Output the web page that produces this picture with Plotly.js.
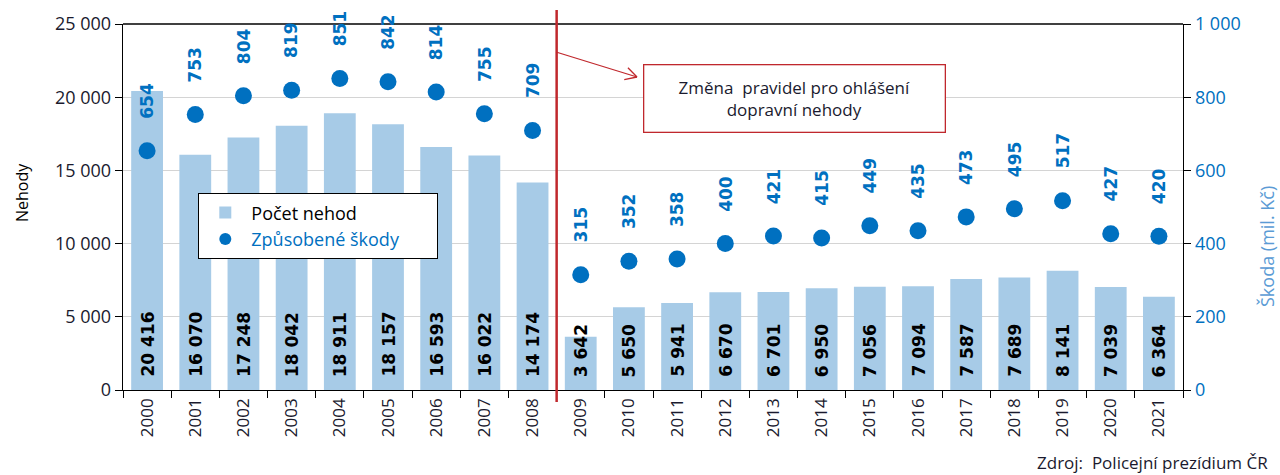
<!DOCTYPE html>
<html><head><meta charset="utf-8">
<script src="https://cdn.plot.ly/plotly-3.0.1.min.js"></script>
<style>html,body{margin:0;padding:0;background:#fff}#chart{width:1280px;height:475px}</style>
</head><body><div id="chart"></div>
<script>
const years = ['2000','2001','2002','2003','2004','2005','2006','2007','2008','2009','2010','2011','2012','2013','2014','2015','2016','2017','2018','2019','2020','2021'];
const accidents = [20416,16070,17248,18042,18911,18157,16593,16022,14174,3642,5650,5941,6670,6701,6950,7056,7094,7587,7689,8141,7039,6364];
const damages = [654,753,804,819,851,842,814,755,709,315,352,358,400,421,415,449,435,473,495,517,427,420];

const W = 1280, H = 475, L = 123, R = 1183, T = 24, B = 390;
const px = x => (x - L) / (R - L);
const py = y => (B - y) / (B - T);

const BLUE = '#0070c0', BAR = '#a7cbe7', RED = '#c0282d', TXT = '#1a1a2e';
const FONT = '"Open Sans", sans-serif';
const BOLD = '"DejaVu Sans", sans-serif';
const fmt = v => String(v).replace(/\B(?=(\d{3})+(?!\d))/g, ' ');

const traces = [
  {type:'bar', x: years.map((_,i)=>i), y: accidents, name:'Počet nehod', marker:{color:BAR}, width:0.66, hoverinfo:'skip'},
  {type:'scatter', mode:'markers', x: years.map((_,i)=>i), y: damages, yaxis:'y2',
   name:'<span style="color:'+BLUE+'">Způsobené škody</span>\u00a0\u00a0\u00a0\u00a0\u00a0\u00a0\u00a0',
   marker:{color:BLUE, size:17}, hoverinfo:'skip'}
];

const annotations = [];
years.forEach((yr,i)=>{
  annotations.push({
    x: i, y: damages[i], xref:'x', yref:'y2', text:'<b>'+damages[i]+'</b>', showarrow:false,
    textangle:-90, xanchor:'center', yanchor:'bottom', yshift:30,
    font:{family:BOLD, size:17, color:BLUE}
  });
  annotations.push({
    x: i, y: 0, xref:'x', yref:'y', text:'<b>'+fmt(accidents[i])+'</b>', showarrow:false,
    textangle:-90, xanchor:'center', yanchor:'bottom', yshift:11,
    font:{family:BOLD, size:17, color:'#000'}
  });
});

annotations.push({
  xref:'paper', yref:'paper', x: px(794.5), y: py(98), xanchor:'center', yanchor:'middle',
  text:'Změna  pravidel pro ohlášení<br>dopravní nehody', showarrow:false,
  font:{family:FONT, size:17, color:TXT}, align:'center',
  bordercolor:RED, borderwidth:1.3, bgcolor:'#fff', width:294, height:60, borderpad:3
});
annotations.push({
  xref:'paper', yref:'paper', x: px(1270), y: py(462), xanchor:'right', yanchor:'middle',
  text:'Zdroj:  Policejní prezídium ČR', showarrow:false,
  font:{family:FONT, size:17, color:TXT}
});
annotations.push({
  xref:'paper', yref:'paper', x: px(22), y: py(193), xanchor:'center', yanchor:'middle',
  text:'Nehody', showarrow:false, textangle:-90,
  font:{family:FONT, size:16, color:'#000'}
});
annotations.push({
  xref:'paper', yref:'paper', x: px(1267), y: py(247), xanchor:'center', yanchor:'middle',
  text:'Škoda (mil. Kč)', showarrow:false, textangle:-90,
  font:{family:FONT, size:18, color:'#5b9bd5'}
});

// arrow (red) from line to box
const a0 = [556, 52], a1 = [637, 77];
const dx = a1[0]-a0[0], dy = a1[1]-a0[1], len = Math.hypot(dx,dy);
const ux = dx/len, uy = dy/len;
function rot(x,y,ang){return [x*Math.cos(ang)-y*Math.sin(ang), x*Math.sin(ang)+y*Math.cos(ang)];}
const hl = 13;
const h1 = rot(-ux,-uy, 0.5), h2 = rot(-ux,-uy,-0.5);

const shapes = [
  {type:'line', xref:'paper', yref:'paper', x0:0, x1:1, y0:1, y1:1, line:{color:'#000', width:1.3}},
  {type:'line', xref:'x', yref:'paper', x0:8.5, x1:8.5, y0:py(402), y1:py(10), line:{color:RED, width:2.5}},
  {type:'line', xref:'paper', yref:'paper', x0:px(a0[0]), y0:py(a0[1]), x1:px(a1[0]), y1:py(a1[1]), line:{color:RED, width:1.3}},
  {type:'line', xref:'paper', yref:'paper', x0:px(a1[0]), y0:py(a1[1]), x1:px(a1[0]+h1[0]*hl), y1:py(a1[1]+h1[1]*hl), line:{color:RED, width:1.3}},
  {type:'line', xref:'paper', yref:'paper', x0:px(a1[0]), y0:py(a1[1]), x1:px(a1[0]+h2[0]*hl), y1:py(a1[1]+h2[1]*hl), line:{color:RED, width:1.3}}
];

const layout = {
  width:W, height:H, margin:{l:L, r:W-R, t:T, b:H-B}, paper_bgcolor:'#fff', plot_bgcolor:'#fff',
  separators:', ', showlegend:true,
  font:{family:FONT, size:17, color:TXT},
  xaxis:{tickmode:'array', tickvals: years.map((_,i)=>i+0.5).concat([-0.5]), ticktext: years.map(()=> '').concat(['']),
    ticks:'outside', ticklen:7, tickcolor:'#000', showticklabels:false,
    showline:true, linecolor:'#000', linewidth:1.3, showgrid:false, zeroline:false, range:[-0.5,21.5]},
  xaxis2:{overlaying:'x', anchor:'y', side:'bottom', range:[-0.5,21.5], tickmode:'array',
    tickvals: years.map((_,i)=>i), ticktext: years, ticks:'', tickangle:-90,
    tickfont:{size:17, color:TXT}, showline:false, showgrid:false, zeroline:false, ticklabelstandoff:4},
  yaxis:{range:[0,25000], dtick:5000, tickformat:',d', showline:true, linecolor:'#000', linewidth:1.3,
    ticks:'outside', ticklen:7, tickcolor:'#000', gridcolor:'#d4d4d4', gridwidth:1,
    zeroline:false, tickfont:{size:18, color:TXT}},
  yaxis2:{overlaying:'y', side:'right', range:[0,1000], dtick:200, tickformat:',d', showline:true,
    linecolor:'#000', linewidth:1.3, ticks:'outside', ticklen:7, tickcolor:'#000', showgrid:false,
    zeroline:false, tickfont:{size:18, color:BLUE}},
  legend:{x:px(198), y:py(193), xanchor:'left', yanchor:'top', bgcolor:'#fff', bordercolor:'#000',
    borderwidth:1.3, font:{size:18, color:'#000'}, tracegroupgap:0, itemwidth:42, itemsizing:'constant'},
  annotations, shapes
};

// dummy trace on xaxis2 so the year labels show
traces.push({type:'scatter', x: years.map((_,i)=>i), y: accidents.map(()=>null), xaxis:'x2', showlegend:false, hoverinfo:'skip'});

Plotly.newPlot('chart', traces, layout, {staticPlot:true});
</script></body></html>
